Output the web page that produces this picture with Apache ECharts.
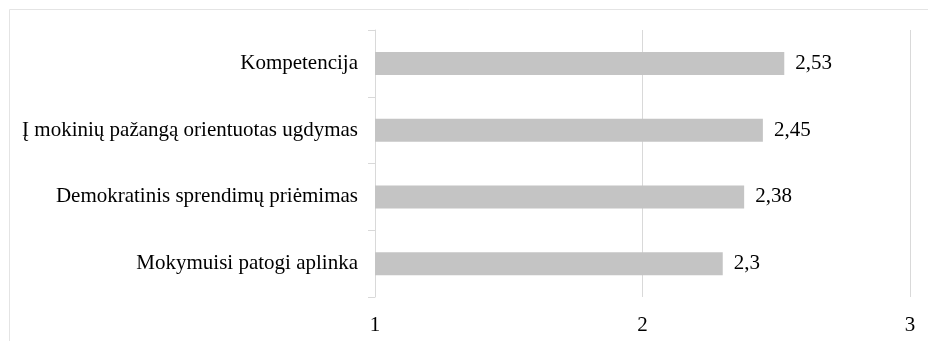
<!DOCTYPE html>
<html>
<head>
<meta charset="utf-8">
<script src="https://cdn.jsdelivr.net/npm/echarts@6/dist/echarts.min.js"></script>
<style>
  html, body { margin: 0; padding: 0; background: #fff; }
  #chart { width: 928px; height: 341px; }
</style>
</head>
<body>
<div id="chart"></div>
<script>
// categories listed bottom to top, as the category axis draws them
var categories = [
  'Mokymuisi patogi aplinka',
  'Demokratinis sprendimų priėmimas',
  'Į mokinių pažangą orientuotas ugdymas',
  'Kompetencija'
];
var values = [2.3, 2.38, 2.45, 2.53];
var xTicks = [1, 2, 3];

var font = '"Liberation Serif", "Times New Roman", serif';

var myChart = echarts.init(document.getElementById('chart'));
myChart.setOption({
  animation: false,
  backgroundColor: '#fff',
  graphic: [{
    type: 'rect',
    shape: { x: 9.5, y: 9.5, width: 930, height: 340 },
    style: { fill: 'none', stroke: '#e4e4e4', lineWidth: 1 },
    silent: true
  }],
  grid: { left: 375, right: 18, top: 30, bottom: 44 },
  xAxis: {
    type: 'value',
    min: xTicks[0],
    max: xTicks[xTicks.length - 1],
    interval: 1,
    axisLine: { show: false },
    axisTick: { show: false },
    splitLine: { show: true, lineStyle: { color: '#d9d9d9', width: 1 } },
    axisLabel: {
      color: '#000',
      fontFamily: font,
      fontSize: 21,
      margin: 18
    }
  },
  yAxis: {
    type: 'category',
    data: categories,
    axisLine: { show: true, lineStyle: { color: '#d9d9d9' } },
    axisTick: { show: true, length: 7, lineStyle: { color: '#d9d9d9' } },
    axisLabel: {
      color: '#000',
      fontFamily: font,
      fontSize: 21,
      margin: 17
    }
  },
  series: [{
    type: 'bar',
    data: values,
    barWidth: 23,
    itemStyle: { color: '#c4c4c4' },
    label: {
      show: true,
      position: 'right',
      distance: 11,
      color: '#000',
      fontFamily: font,
      fontSize: 21,
      formatter: function (p) { return String(p.value).replace('.', ','); }
    }
  }]
});
</script>
</body>
</html>
